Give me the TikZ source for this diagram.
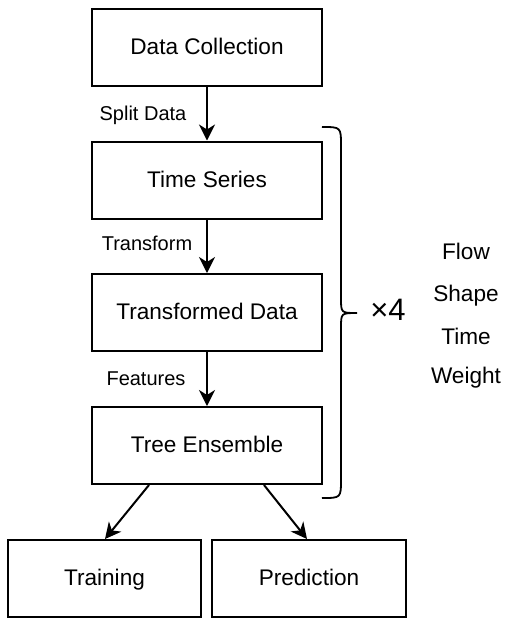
\documentclass[tikz,border=0pt]{standalone}
\usepackage{fontspec}
\setmainfont{Liberation Sans}
\usetikzlibrary{arrows.meta,calc}
\begin{document}
\begin{tikzpicture}[x=0.5pt,y=-0.5pt,
  capc/.style={text height=0.716em, text depth=0pt},
  box/.style={draw, line width=1pt, minimum width=115pt, minimum height=38.5pt, inner sep=0pt, capc, font=\fontsize{11.3}{13}\selectfont},
  sbox/.style={box, minimum width=96.7pt},
  arr/.style={line width=1pt, -{Stealth[length=8pt,width=8pt,inset=2.5pt]}},
  lbl/.style={font=\fontsize{10}{12}\selectfont, inner sep=0pt, capc},
  side/.style={font=\fontsize{11.3}{13}\selectfont, inner sep=0pt, capc}]
\useasboundingbox (0,0) rectangle (505,618);
\node[box] (dc) at (207,47) {Data Collection};
\node[box] (ts) at (207,180) {Time Series};
\node[box] (td) at (207,312.5) {Transformed Data};
\node[box] (te) at (207,445.5) {Tree Ensemble};
\node[sbox] (tr) at (104.5,578.5) {Training};
\node[sbox] (pr) at (309,578.5) {Prediction};
\draw[arr] (dc) -- (ts);
\draw[arr] (ts) -- (td);
\draw[arr] (td) -- (te);
\draw[arr] ([xshift=-29pt]te.south) -- ([xshift=0.25pt]tr.north);
\draw[arr] ([xshift=28.5pt]te.south) -- ([xshift=-1pt]pr.north);
\node[lbl] (l1) at (143,113.5) {Split Data};
\node[lbl] (l2) at (147,243) {Transform};
\node[lbl] (l3) at (146,378) {Features};
\draw[line width=0.9pt] (322,127) .. controls (341,127) .. (341,146) -- (341,298)
  .. controls (341,313) .. (357,313) .. controls (341,313) .. (341,328) -- (341,479)
  .. controls (341,498) .. (322,498);
\node[font=\fontsize{15.5}{18}\selectfont, inner sep=0pt, capc] (x4) at (388,313.5) {×4};
\node[side] (s1) at (466,252.5) {Flow};
\node[side] (s2) at (466,294) {Shape};
\node[side] (s3) at (466,337.5) {Time};
\node[side] (s4) at (466,376.5) {Weight};
\end{tikzpicture}
\end{document}
